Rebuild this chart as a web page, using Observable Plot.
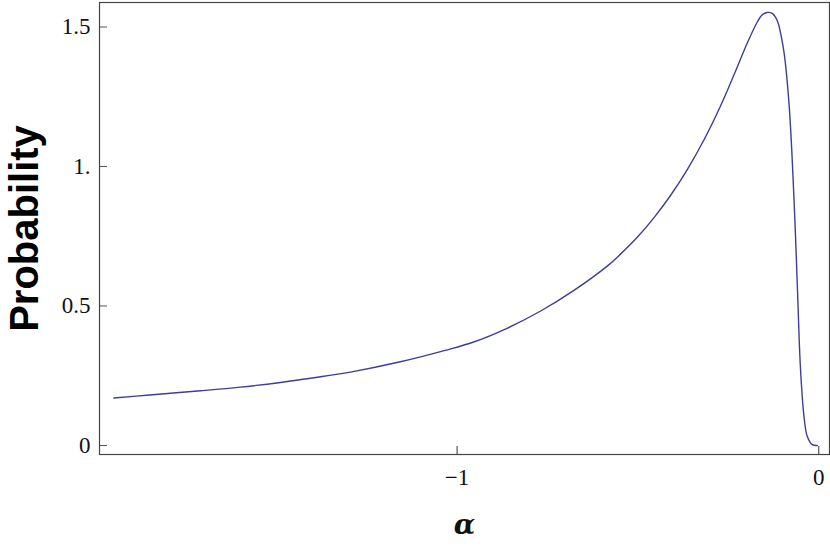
<!DOCTYPE html>
<html>
<head>
<meta charset="utf-8">
<script src="https://cdn.jsdelivr.net/npm/d3@7"></script>
<script src="https://cdn.jsdelivr.net/npm/@observablehq/plot@0.6"></script>
<style>
  html, body { margin: 0; padding: 0; background: #fff; }
</style>
</head>
<body>
<div id="chart"></div>
<script>
const alpha = [-1.949, -1.85, -1.709, -1.60, -1.488, -1.40, -1.295, -1.157, -1.033, -0.954, -0.862, -0.769, -0.677, -0.585, -0.549, -0.50, -0.456, -0.41, -0.364, -0.318, -0.272, -0.235, -0.198, -0.170, -0.157, -0.143, -0.128, -0.115, -0.097, -0.083, -0.074, -0.064, -0.058, -0.051, -0.041, -0.032, -0.018, -0.004];
const probability = [0.170, 0.181, 0.196, 0.209, 0.226, 0.242, 0.263, 0.300, 0.341, 0.371, 0.420, 0.482, 0.556, 0.643, 0.685, 0.749, 0.816, 0.896, 0.988, 1.094, 1.216, 1.327, 1.442, 1.518, 1.543, 1.552, 1.548, 1.523, 1.416, 1.237, 1.039, 0.739, 0.523, 0.285, 0.105, 0.033, 0.003, 0.000];
const xTicks = [-1, 0];
const xTickLabels = ["\u22121", "0"];
const yTicks = [0, 0.5, 1, 1.5];
const yTickLabels = ["0", "0.5", "1.", "1.5"];

const data = alpha.map((a, i) => ({a, p: probability[i]}));

const chart = Plot.plot({
  width: 830,
  height: 547,
  marginLeft: 99,
  marginRight: 1,
  marginTop: 2,
  marginBottom: 93,
  style: {fontFamily: "'Liberation Serif', 'Times New Roman', serif", background: "#fff"},
  x: {domain: [-1.9887, 0.0296]},
  y: {domain: [-0.0323, 1.5878]},
  marks: [
    Plot.axisX(xTicks, {
      anchor: "bottom",
      tickSize: -8,
      tickPadding: 22,
      stroke: "#333",
      fill: "#111",
      fontSize: 23,
      tickFormat: (d) => xTickLabels[xTicks.indexOf(d)],
      label: null
    }),
    Plot.axisY(yTicks, {
      anchor: "left",
      tickSize: -8,
      tickPadding: 17,
      stroke: "#555",
      fill: "#111",
      fontSize: 23,
      tickFormat: (d) => yTickLabels[yTicks.indexOf(d)],
      label: null
    }),
    Plot.frame({stroke: "#444", strokeWidth: 1.2}),
    Plot.line(data, {x: "a", y: "p", stroke: "#3d3d9e", strokeWidth: 1.4, curve: "catmull-rom"}),
    Plot.text(["\u03b1"], {
      frameAnchor: "bottom",
      lineAnchor: "bottom",
      dy: 79,
      fontSize: 28,
      fontWeight: "bold",
      fontStyle: "italic",
      fontFamily: "'DejaVu Serif', serif",
      fill: "#111"
    }),
    Plot.text(["Probability"], {
      frameAnchor: "left",
      lineAnchor: "bottom",
      textAnchor: "middle",
      rotate: -90,
      dx: -62,
      fontSize: 40,
      fontWeight: "bold",
      fontFamily: "'Liberation Sans', Arial, sans-serif",
      fill: "#000"
    })
  ]
});
document.getElementById("chart").appendChild(chart);
</script>
</body>
</html>
